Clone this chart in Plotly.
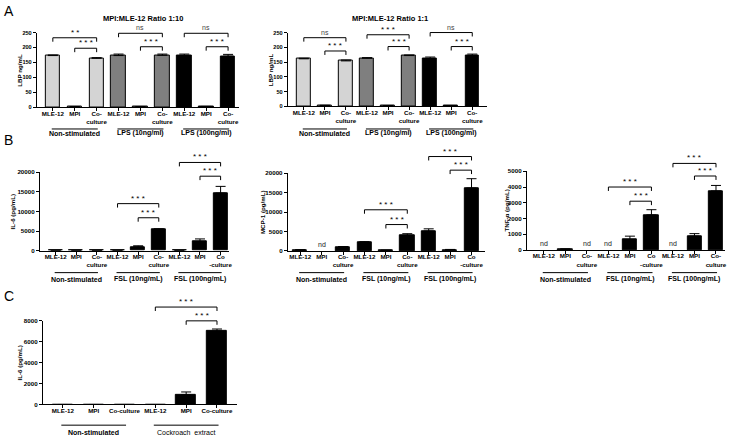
import plotly.graph_objects as go

W, H = 734, 438

# ---------------- DATA ----------------
a_cats = ["MLE-12", "MPI", "Co-<br>culture"] * 3
a_groups = ["Non-stimulated", "LPS (10ng/ml)", "LPS (100ng/ml)"]
a110_vals = [173, 2, 164, 173, 2, 174, 172, 2, 171]
a110_err = [2, 0.5, 2, 5, 0.5, 4, 6, 1, 6]
a11_vals = [161, 3, 154, 163, 2, 172, 162, 2, 172]
a11_err = [2, 0.5, 3, 2, 0.5, 2, 5, 0.5, 5]

b_groups = ["Non-stimulated", "FSL (10ng/mL)", "FSL (100ng/mL)"]
il6_cats = ["MLE-12", "MPI", "Co-<br>culture", "MLE-12", "MPI", "Co-<br>culture", "MLE-12", "MPI", "Co<br>-culture"]
il6_vals = [0, 0, 0, 0, 1000, 5400, 0, 2300, 14700]
il6_err = [0, 0, 0, 0, 250, 200, 0, 700, 1700]

mcp_cats = ["MLE-12", "MPI", "Co-<br>culture", "MLE-12", "MPI", "Co-<br>culture", "MLE-12", "MPI", "Co<br>-culture"]
mcp_vals = [250, None, 1000, 2150, 150, 4000, 5100, 300, 16200]
mcp_err = [80, 0, 150, 250, 50, 450, 600, 100, 2400]
mcp_nd = [1]

tnf_cats = ["MLE-12", "MPI", "Co-<br>culture", "MLE-12", "MPI", "Co<br>-culture", "MLE-12", "MPI", "Co-<br>culture"]
tnf_vals = [None, 50, None, None, 650, 2230, None, 880, 3750]
tnf_err = [0, 20, 0, 0, 230, 330, 0, 160, 350]
tnf_nd = [0, 2, 3, 6]

c_cats = ["MLE-12", "MPI", "Co-culture"] * 2
c_groups = ["Non-stimulated", "Cockroach\u00a0 extract"]
c_vals = [0, 0, 0, 0, 920, 7000]
c_err = [0, 0, 0, 0, 280, 220]

# significance comparisons: (from, to, label)
a110_sig = [(0, 2, "* *"), (1, 2, "* * *"), (3, 5, "ns"), (4, 5, "* * *"), (6, 8, "ns"), (7, 8, "* * *")]
a11_sig = [(0, 2, "ns"), (1, 2, "* * *"), (3, 5, "* * *"), (4, 5, "* * *"), (6, 8, "ns"), (7, 8, "* * *")]
b_sig = [(3, 5, "* * *"), (4, 5, "* * *"), (6, 8, "* * *"), (7, 8, "* * *")]
c_sig = [(3, 5, "* * *"), (4, 5, "* * *")]

# ---------------- STYLE / LAYOUT ----------------
FONT = "Liberation Sans, Arial, sans-serif"
LIGHT, MID, DARK = "#d4d4d4", "#7f7f7f", "#000000"


def fx(px):
    return px / W


def fy(py):
    return 1 - py / H


fig = go.Figure()
shapes = []
annots = []


def panel(n, cats, vals, errs, colors, xpx, ypx, xrange, ymax, dtick, ytitle, ytitle_x,
          groups, group_spans, line_py, glabel_py, sig, sig_h, bar_w, nd=None,
          ytick_size=6.2, group_weights=None):
    xa = "x" if n == 1 else f"x{n}"
    ya = "y" if n == 1 else f"y{n}"
    err_plot = [e if e else None for e in errs]
    fig.add_trace(go.Bar(
        x=list(range(len(cats))), y=vals, xaxis=xa, yaxis=ya, width=bar_w,
        marker=dict(color=colors, line=dict(color="#000", width=1)),
        error_y=dict(type="data", array=err_plot, arrayminus=[0] * len(errs), symmetric=False,
                     color="#000", thickness=1, width=5),
        showlegend=False, hoverinfo="skip"))
    ax_common = dict(showline=True, linecolor="#000", linewidth=1, ticks="outside", ticklen=3,
                     tickwidth=1, tickcolor="#000", showgrid=False, zeroline=False)
    fig.layout[("xaxis" if n == 1 else f"xaxis{n}")] = dict(
        domain=[fx(xpx[0]), fx(xpx[1])], range=xrange, anchor=ya, tickangle=0,
        ticklabelstandoff=-3,
        tickvals=list(range(len(cats))), ticktext=cats,
        tickfont=dict(family=FONT, size=6.2, color="#000", weight="bold"), **ax_common)
    fig.layout[("yaxis" if n == 1 else f"yaxis{n}")] = dict(
        domain=[fy(ypx[0]), fy(ypx[1])], range=[0, ymax], anchor=xa, dtick=dtick, tick0=0,
        tickformat="d", tickfont=dict(family=FONT, size=ytick_size, color="#000", weight="bold"),
        **ax_common)
    # y title
    annots.append(dict(text=ytitle, xref="paper", yref=f"{ya} domain", x=fx(ytitle_x), y=0.5,
                       textangle=-90, showarrow=False, xanchor="center", yanchor="middle",
                       font=dict(family=FONT, size=6.2, color="#000", weight="bold")))
    # group lines and labels
    gw = group_weights or ["bold"] * len(groups)
    for g, (i0, i1), w in zip(groups, group_spans, gw):
        shapes.append(dict(type="line", xref=xa, yref="paper", x0=i0 - 0.05, x1=i1 + 0.05,
                           y0=fy(line_py), y1=fy(line_py), line=dict(color="#000", width=1)))
        annots.append(dict(text=g, xref=xa, yref="paper", x=(i0 + i1) / 2, y=fy(glabel_py),
                           showarrow=False, xanchor="center", yanchor="middle",
                           font=dict(family=FONT, size=7, color="#000", weight=w)))
    # significance brackets
    dom_h = ypx[0] - ypx[1]
    drop = 4 / dom_h
    for (i0, i1, lab), h in zip(sig, sig_h):
        shapes.append(dict(type="path", xref=xa, yref=f"{ya} domain",
                           path=f"M {i0},{h - drop} L {i0},{h} L {i1},{h} L {i1},{h - drop}",
                           line=dict(color="#000", width=1)))
        is_ns = lab == "ns"
        annots.append(dict(text=lab, xref=xa, yref=f"{ya} domain", x=(i0 + i1) / 2, y=h,
                           showarrow=False, xanchor="center", yanchor="bottom",
                           yshift=0 if is_ns else -1,
                           font=dict(family=FONT, size=7 if is_ns else 8,
                                     color="#444" if is_ns else "#000")))
    if nd:
        for i in nd:
            annots.append(dict(text="nd", xref=xa, yref=ya, x=i, y=0, showarrow=False,
                               xanchor="center", yanchor="bottom", yshift=1,
                               font=dict(family=FONT, size=7, color="#222")))


a_colors = [LIGHT] * 3 + [MID] * 3 + [DARK] * 3
spans9 = [(0, 2), (3, 5), (6, 8)]

panel(1, a_cats, a110_vals, a110_err, a_colors, (37, 240), (105, 29), [-0.73, 8.5], 250, 50,
      "LBP ng/mL", 20, a_groups, spans9, 127, 131.5, a110_sig,
      [0.93, 0.79, 0.99, 0.81, 0.99, 0.81], 0.66, ytick_size=5.6)
panel(2, a_cats, a11_vals, a11_err, a_colors, (289, 489), (104, 29), [-0.76, 8.7], 250, 50,
      "LBP ng/mL", 272, a_groups, spans9, 127, 131.5, a11_sig,
      [0.93, 0.75, 0.97, 0.81, 1.0, 0.81], 0.66, ytick_size=5.6)
panel(3, il6_cats, il6_vals, il6_err, [DARK] * 9, (40, 230), (250.7, 171), [-0.77, 8.41], 20000, 5000,
      "IL-6 (pg/mL)", 13, b_groups, spans9, 273, 279.5, b_sig,
      [0.6, 0.42, 1.125, 0.95], 0.68)
panel(4, mcp_cats, mcp_vals, mcp_err, [DARK] * 9, (289, 487), (251, 172), [-0.58, 8.63], 20000, 5000,
      "MCP-1 (pg/mL)", 263, b_groups, spans9, 273, 279.5, b_sig,
      [0.53, 0.34, 1.215, 1.04], 0.66, nd=mcp_nd)
panel(5, tnf_cats, tnf_vals, tnf_err, [DARK] * 9, (529, 728), (250, 170), [-0.79, 8.42], 5000, 1000,
      "TNF-\u03b1 (pg/mL)", 509, b_groups, spans9, 273, 279.5, b_sig,
      [0.80, 0.62, 1.10, 0.94], 0.66, nd=tnf_nd)
panel(6, c_cats, c_vals, c_err, [DARK] * 6, (43, 238), (407, 322), [-0.65, 5.65], 8000, 2000,
      "IL-6 (pg/mL)", 20, c_groups, [(0, 2), (3, 5)], 428, 435, c_sig,
      [1.165, 1.0], 0.65, group_weights=["bold", "normal"])

# titles and panel letters
for txt, x, y in [("MPI:MLE-12 Ratio 1:10", 144, 15), ("MPI:MLE-12 Ratio 1:1", 392, 15)]:
    annots.append(dict(text=txt, xref="paper", yref="paper", x=fx(x), y=fy(y), showarrow=False,
                       xanchor="center", yanchor="middle",
                       font=dict(family=FONT, size=7.5, color="#000", weight="bold")))
for txt, x, y in [("A", 2, 7), ("B", 2, 138), ("C", 2, 297)]:
    annots.append(dict(text=txt, xref="paper", yref="paper", x=fx(x), y=fy(y), showarrow=False,
                       xanchor="left", yanchor="middle",
                       font=dict(family=FONT, size=14, color="#000")))

fig.update_layout(width=W, height=H, autosize=False, margin=dict(l=0, r=0, t=0, b=0),
                  paper_bgcolor="white", plot_bgcolor="white", shapes=shapes, annotations=annots,
                  bargap=0, font=dict(family=FONT))
fig.write_html("out.html")
